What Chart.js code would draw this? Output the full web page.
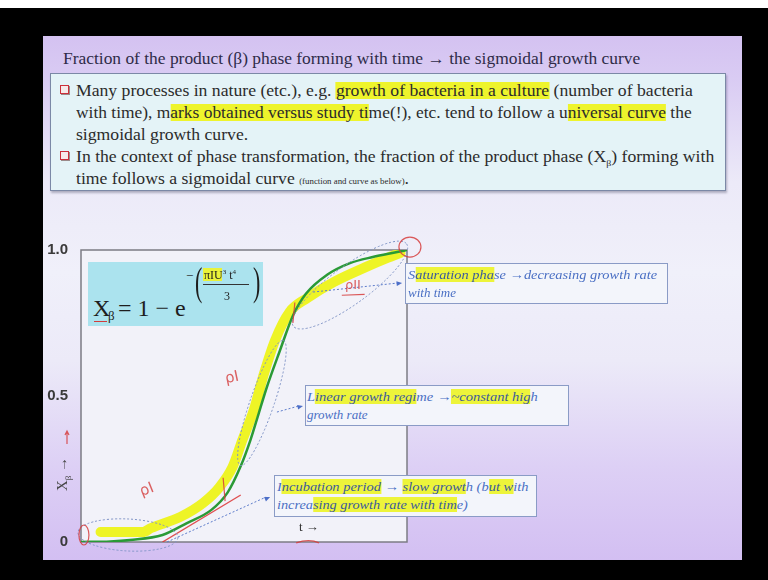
<!DOCTYPE html>
<html>
<head>
<meta charset="utf-8">
<script src="https://cdn.jsdelivr.net/npm/chart.js@4.4.0/dist/chart.umd.min.js"></script>
<style>
  html, body { margin: 0; padding: 0; }
  body { width: 768px; height: 580px; background: #000; position: relative; overflow: hidden; font-family: "Liberation Serif", serif; }
  #topstrip { position: absolute; left: 0; top: 0; width: 768px; height: 8px; background: #fff; }
  #slide { position: absolute; left: 43px; top: 36px; width: 699px; height: 524px;
    background: linear-gradient(to bottom, #d4c2f1 0%, #d9cbf3 8%, #eceaf8 28%, #f0f0fa 45%, #eceaf8 62%, #ddd0f5 82%, #d3bff2 100%); }
  .abs { position: absolute; white-space: nowrap; transform-origin: 0 50%; }
  #title { left: 63px; top: 49px; font-size: 16px; line-height: 20px; color: #2e2b48; }
  #textbox { position: absolute; left: 50px; top: 73px; width: 676px; height: 118px; background: #e4f3f7;
    border: 1.5px solid #7b88a6; box-shadow: 1px 2px 2px rgba(60,60,90,0.35); box-sizing: border-box; }
  .ln { font-size: 16px; line-height: 20px; color: #2b2b2b; }
  .small { font-size: 8px; }
  .hl { background: #eef42c; }
  .bullet { position: absolute; width: 7px; height: 7px; border: 1.5px solid #cc2f3a; background: #f6eaea;
    box-shadow: 1px 1px 0 #9a8a8a; }
  #chart { position: absolute; left: 0; top: 0; }
  #formula { position: absolute; left: 88px; top: 262px; width: 175px; height: 64px; background: #abe3ee; }
  .f { position: absolute; white-space: nowrap; color: #1e1e1e; line-height: 1; }
  .note { position: absolute; background: #f3f5fb; border: 1px solid #8a9bc6; box-sizing: border-box; }
  .it { font-size: 13px; line-height: 16px; font-style: italic; color: #4a6fc4; }
  .it .hl { color: #3b5a9c; background: #edf43a; }
  #ytitle { left: 47px; top: 462px; font-size: 15px; line-height: 18px; color: #454545; transform: rotate(-90deg); transform-origin: 50% 50%; width: 36px; text-align: center; }
  #tlabel { left: 299px; top: 519px; font-size: 13px; line-height: 16px; color: #333; }
</style>
</head>
<body>
<div id="topstrip"></div>
<div id="slide"></div>

<div id="title" class="abs" data-w="577">Fraction of the product (β) phase forming with time → the sigmoidal growth curve</div>

<div id="textbox"></div>
<div class="bullet" style="left:60px;top:85px"></div>
<div class="abs ln" style="left:76px;top:81px" data-w="617">Many processes in nature (etc.), e.g. <span class="hl">growth of bacteria in a culture</span> (number of bacteria</div>
<div class="abs ln" style="left:76px;top:103px" data-w="616">with time), m<span class="hl">arks obtained versus study ti</span>me(!), etc. tend to follow a u<span class="hl">niversal curve</span> the</div>
<div class="abs ln" style="left:76px;top:125px">sigmoidal growth curve.</div>
<div class="bullet" style="left:60px;top:151px"></div>
<div class="abs ln" style="left:76px;top:147px" data-w="638">In the context of phase transformation, the fraction of the product phase (X<sub style="font-size:9px">β</sub>) forming with</div>
<div class="abs ln" style="left:76px;top:169px">time follows a sigmoidal curve <span class="small">(function and curve as below)</span>.</div>

<canvas id="chart" width="768" height="580"></canvas>

<div id="formula"></div>
<div class="f" style="left:93px;top:296px;font-size:24px">X</div>
<div class="f" style="left:108px;top:309px;font-size:13px">β</div>
<div style="position:absolute;left:94px;top:321px;width:13px;border-top:1.5px solid #d23c3c"></div>
<div class="f" style="left:118px;top:296px;font-size:24px">= 1 − e</div>
<div class="f" style="left:186px;top:269px;font-size:13px">−</div>
<div class="f" style="left:192px;top:262px;font-size:40px;transform:scaleX(0.55)">(</div>
<div style="position:absolute;left:203px;top:268px;width:19px;height:13px;background:#e9f33a"></div>
<div class="f" style="left:204px;top:269px;font-size:12px">πIU<sup style="font-size:7px">3</sup> t<sup style="font-size:7px">4</sup></div>
<div style="position:absolute;left:203px;top:284px;width:46px;height:1px;background:#333"></div>
<div class="f" style="left:224px;top:290px;font-size:12px">3</div>
<div class="f" style="left:250px;top:262px;font-size:40px;transform:scaleX(0.55)">)</div>

<div class="note" style="left:405px;top:263px;width:263px;height:41px"></div>
<div class="abs it" style="left:408px;top:267px" data-w="249">S<span class="hl">aturation pha</span>se →decreasing growth rate</div>
<div class="abs it" style="left:408px;top:285px">with time</div>

<div class="note" style="left:305px;top:385px;width:264px;height:41px"></div>
<div class="abs it" style="left:307px;top:389px" data-w="231">L<span class="hl">inear growth regi</span>me →<span class="hl">~constant hig</span>h</div>
<div class="abs it" style="left:307px;top:407px">growth rate</div>

<div class="note" style="left:274px;top:475px;width:263px;height:42px"></div>
<div class="abs it" style="left:277px;top:479px" data-w="251">I<span class="hl">ncubation period</span> → <span class="hl">slow growt</span>h (b<span class="hl">ut w</span>ith</div>
<div class="abs it" style="left:277px;top:497px" data-w="191">increa<span class="hl">sing growth rate with tim</span>e)</div>

<div id="ytitle" class="abs">X<sub style="font-size:9px">β</sub> →</div>
<div id="tlabel" class="abs">t →</div>

<script>
// sigmoidal curve read along t (arbitrary units 0..10)
const tValues = [0, 0.9, 1.5, 2.5, 3.25, 4.0, 4.5, 4.9, 5.2, 5.45, 5.7, 6.1, 6.5, 6.9, 7.55, 8.25, 8.95, 9.7, 10];
const xBeta = [0, 0.002, 0.007, 0.024, 0.065, 0.11, 0.17, 0.26, 0.35, 0.44, 0.53, 0.655, 0.775, 0.85, 0.915, 0.955, 0.976, 0.993, 1.0];

// highlighter stroke drawn over the curve
const markT = [0.6, 1.9, 2.15, 3.05, 3.75, 4.25, 4.65, 4.95, 5.3, 5.6, 5.95, 6.4, 6.95, 7.75, 8.75, 9.4, 9.8];
const markX = [0.034, 0.034, 0.048, 0.086, 0.134, 0.188, 0.257, 0.349, 0.452, 0.572, 0.69, 0.788, 0.836, 0.89, 0.942, 0.973, 0.99];

// tangent sketched at the start of growth
const tanT = [2.5, 4.9];
const tanX = [0, 0.161];

const yTicks = [0, 0.5, 1.0];
const yTickLabels = ['0', '0.5', '1.0'];

// squeeze text lines to their set widths; the rest share the first body line's factor
let bodyScale = 1;
document.querySelectorAll('[data-w]').forEach(el => {
  const k = el.dataset.w / el.offsetWidth;
  el.style.transform = 'scaleX(' + k + ')';
  if (el.classList.contains('ln') && bodyScale === 1) bodyScale = k;
});
document.querySelectorAll('.ln:not([data-w])').forEach(el => {
  el.style.transform = 'scaleX(' + bodyScale + ')';
});

function pts(xs, ys) {
  return xs.map((x, i) => ({x: x, y: ys[i]}));
}

function ellipseAt(ctx, x, y, rx, ry, deg) {
  ctx.beginPath();
  ctx.ellipse(x, y, rx, ry, deg * Math.PI / 180, 0, Math.PI * 2);
  ctx.stroke();
}

function dashArrow(ctx, x1, y1, x2, y2) {
  ctx.save();
  ctx.setLineDash([2, 2]);
  ctx.beginPath();
  ctx.moveTo(x1, y1);
  ctx.lineTo(x2 - 4, y2);
  ctx.stroke();
  ctx.setLineDash([]);
  const a = Math.atan2(y2 - y1, x2 - x1);
  ctx.beginPath();
  ctx.moveTo(x2, y2);
  ctx.lineTo(x2 - 6 * Math.cos(a - 0.4), y2 - 6 * Math.sin(a - 0.4));
  ctx.lineTo(x2 - 6 * Math.cos(a + 0.4), y2 - 6 * Math.sin(a + 0.4));
  ctx.closePath();
  ctx.fill();
  ctx.restore();
}

const sketch = {
  id: 'sketch',
  beforeDraw(chart) {
    const {ctx, chartArea: a} = chart;
    ctx.save();
    ctx.fillStyle = '#f2f2f9';
    ctx.fillRect(a.left, a.top, a.right - a.left, a.bottom - a.top);
    ctx.restore();
  },
  beforeDatasetsDraw(chart) {
    const {ctx, chartArea: a} = chart;
    ctx.save();
    ctx.strokeStyle = '#7c7c84';
    ctx.lineWidth = 1.5;
    ctx.strokeRect(a.left, a.top, a.right - a.left, a.bottom - a.top);
    ctx.restore();
  },
  afterDatasetsDraw(chart) {
    const ctx = chart.ctx;
    const sx = chart.scales.x, sy = chart.scales.y;
    const px = t => sx.getPixelForValue(t);
    const py = v => sy.getPixelForValue(v);

    // dashed loops around the three regimes
    ctx.save();
    ctx.strokeStyle = '#7f93c6';
    ctx.lineWidth = 1;
    ctx.setLineDash([2, 2]);
    ellipseAt(ctx, px(1.44), py(0.024), 50, 16, 3);
    ellipseAt(ctx, px(5.55), py(0.476), 66, 12, -71);
    ellipseAt(ctx, px(8.25), py(0.88), 70, 19, -36);
    ctx.restore();

    // pointers to the notes
    ctx.save();
    ctx.strokeStyle = '#5d7ccb';
    ctx.fillStyle = '#4d6fc8';
    ctx.lineWidth = 1;
    dashArrow(ctx, px(7.12), py(0.856), px(9.85), py(0.887));
    dashArrow(ctx, px(6.01), py(0.445), px(6.81), py(0.466));
    dashArrow(ctx, px(2.64), py(0.0), px(5.8), py(0.154));
    ctx.restore();

    // red pen marks
    ctx.save();
    ctx.strokeStyle = 'rgba(214,60,60,0.85)';
    ctx.fillStyle = 'rgba(214,70,70,0.85)';
    ctx.lineWidth = 1.2;
    ellipseAt(ctx, px(0.09), py(0.024), 5, 10, 0);
    ellipseAt(ctx, px(10.09), py(1.01), 11, 10, 0);
    ctx.beginPath();
    ctx.moveTo(px(4.36), py(0.22)); ctx.lineTo(px(4.42), py(0.14));
    ctx.moveTo(px(6.56), py(0.82)); ctx.lineTo(px(6.5), py(0.75));
    ctx.moveTo(px(6.6), py(-0.003)); ctx.quadraticCurveTo(px(7.0), py(0.012), px(7.3), py(-0.003));
    ctx.stroke();

    ctx.font = '15px "DejaVu Sans"';
    ctx.textAlign = 'center';
    ctx.textBaseline = 'middle';
    const scrawl = (txt, t, v, deg) => {
      ctx.save();
      ctx.translate(px(t), py(v));
      ctx.rotate(deg * Math.PI / 180);
      ctx.fillText(txt, 0, 0);
      ctx.restore();
    };
    scrawl('ρI', 2.02, 0.178, -22);
    scrawl('ρI', 4.63, 0.562, -12);
    ctx.font = '13px "DejaVu Sans"';
    scrawl('ρII', 8.34, 0.877, 0);
    ctx.beginPath();
    ctx.moveTo(px(8.0), py(0.845)); ctx.lineTo(px(8.7), py(0.848));
    ctx.stroke();
    ctx.restore();

    // small arrow beside the y title
    ctx.save();
    ctx.strokeStyle = 'rgba(214,60,60,0.85)';
    ctx.lineWidth = 1.2;
    ctx.beginPath();
    ctx.moveTo(67, 444); ctx.lineTo(67, 432);
    ctx.moveTo(65, 435); ctx.lineTo(67, 431); ctx.lineTo(69, 435);
    ctx.stroke();
    ctx.restore();
  }
};

const ctx = document.getElementById('chart').getContext('2d');
const chart = new Chart(ctx, {
  type: 'line',
  data: {
    datasets: [
      {
        label: 'highlight',
        data: pts(markT, markX),
        borderColor: 'rgba(238,244,20,0.92)',
        borderWidth: 10,
        borderCapStyle: 'round',
        borderJoinStyle: 'round',
        cubicInterpolationMode: 'monotone',
        pointRadius: 0,
        order: 3
      },
      {
        label: 'X_beta',
        data: pts(tValues, xBeta),
        borderColor: '#2a9a36',
        borderWidth: 2.5,
        cubicInterpolationMode: 'monotone',
        pointRadius: 0,
        order: 2
      },
      {
        label: 'tangent',
        data: pts(tanT, tanX),
        borderColor: 'rgba(220,50,50,0.85)',
        borderWidth: 1.4,
        pointRadius: 0,
        order: 1
      }
    ]
  },
  options: {
    responsive: false,
    animation: false,
    layout: { padding: { left: 41, right: 361, top: 250, bottom: 38 } },
    plugins: { legend: { display: false }, tooltip: { enabled: false } },
    scales: {
      x: {
        type: 'linear',
        min: 0,
        max: 10,
        grid: { display: false },
        border: { display: false },
        ticks: { display: false },
        afterFit: s => { s.height = 0; }
      },
      y: {
        min: 0,
        max: 1,
        grid: { display: false },
        border: { display: false },
        afterBuildTicks: s => { s.ticks = yTicks.map(v => ({value: v})); },
        ticks: {
          padding: 5,
          color: '#3a3a3a',
          font: { family: 'Liberation Sans', size: 15, weight: 'bold' },
          callback: (v) => yTickLabels[yTicks.indexOf(v)]
        },
        afterFit: s => { s.width = 40; }
      }
    }
  },
  plugins: [sketch]
});
</script>
</body>
</html>
